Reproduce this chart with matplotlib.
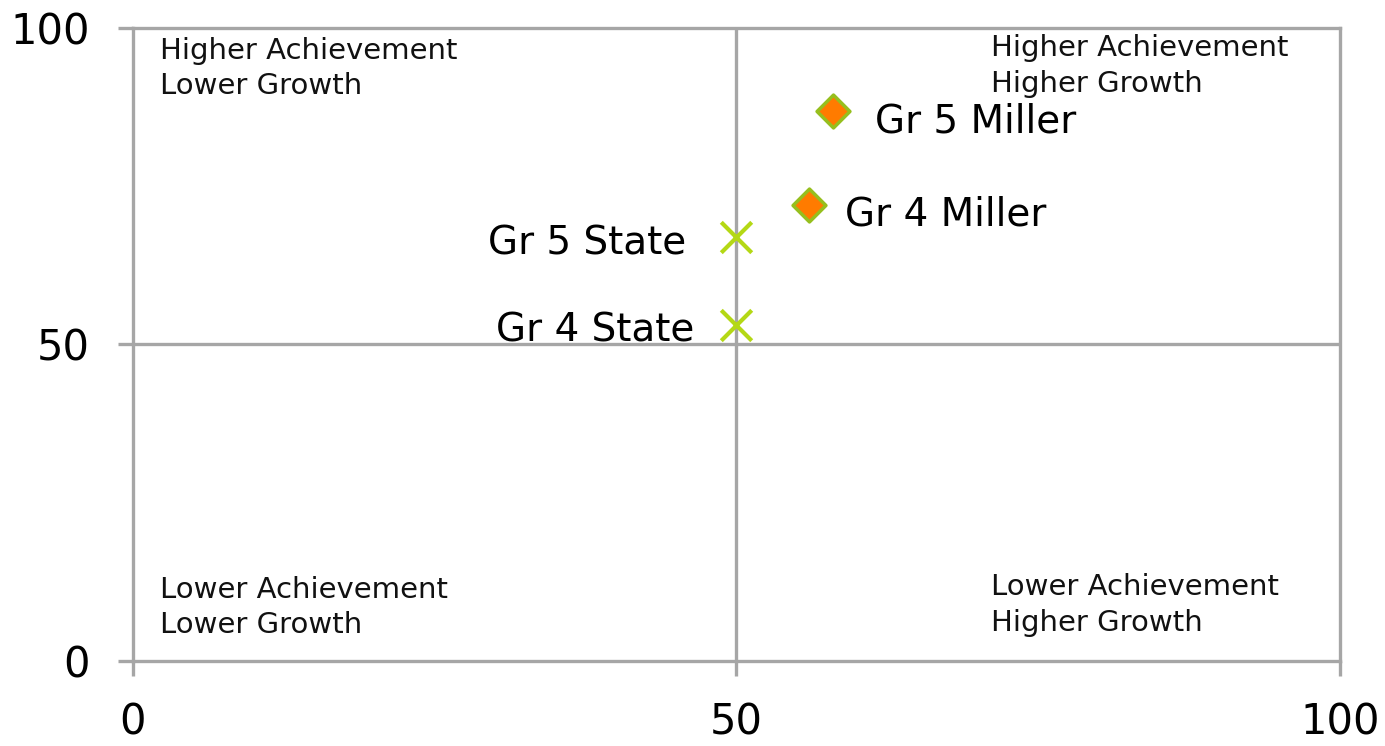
import matplotlib.pyplot as plt

# Growth (x) vs achievement (y) percentiles
miller_labels = ["Gr 5 Miller", "Gr 4 Miller"]
miller_x = [58.0, 56.0]
miller_y = [86.9, 72.0]

state_labels = ["Gr 5 State", "Gr 4 State"]
state_x = [50.0, 50.0]
state_y = [67.0, 53.1]

ticks = [0, 50, 100]

# quadrant captions: x, baseline y of each line
quad_text = [
    ("Higher Achievement", "Lower Growth"),
    ("Higher Achievement", "Higher Growth"),
    ("Lower Achievement", "Lower Growth"),
    ("Lower Achievement", "Higher Growth"),
]
quad_x = [2.2, 71.1, 2.2, 71.1]
quad_y1 = [95.1, 95.6, 9.9, 10.4]
quad_y2 = [89.6, 89.9, 4.4, 4.7]

grey = "#a6a6a6"

fig = plt.figure(figsize=(13.85, 7.46), dpi=100)
ax = fig.add_axes([0.096, 0.114, 0.8715, 0.8485])
ax.set_xlim(0, 100)
ax.set_ylim(0, 100)

for s in ax.spines.values():
    s.set_color(grey)
    s.set_linewidth(2.4)

ax.axhline(50, color=grey, lw=2.4, zorder=1)
ax.axvline(50, color=grey, lw=2.4, zorder=1)

ax.set_xticks(ticks)
ax.set_yticks(ticks)
ax.tick_params(axis="both", length=11, width=2.4, color=grey, labelsize=30)
ax.tick_params(axis="x", pad=18)
ax.tick_params(axis="y", pad=20)

for (l1, l2), qx, y1, y2 in zip(quad_text, quad_x, quad_y1, quad_y2):
    ax.text(qx, y1, l1, fontsize=21, va="baseline", ha="left", color="#111111")
    ax.text(qx, y2, l2, fontsize=21, va="baseline", ha="left", color="#111111")

# school points
ax.scatter(miller_x, miller_y, marker="D", s=280, color="#ff7b00",
           edgecolor="#96bf1e", linewidth=2.5, zorder=3)
# state points
ax.scatter(state_x, state_y, marker="x", s=480, color="#b4d815",
           linewidth=3, zorder=3)

miller_off = [(42, -22), (36, -20)]
for lab, x, y, off in zip(miller_labels, miller_x, miller_y, miller_off):
    ax.annotate(lab, (x, y), xytext=off, textcoords="offset pixels",
                fontsize=28, va="baseline", ha="left")

state_off = [(-50, -18), (-42, -17)]
for lab, x, y, off in zip(state_labels, state_x, state_y, state_off):
    ax.annotate(lab, (x, y), xytext=off, textcoords="offset pixels",
                fontsize=28, va="baseline", ha="right")

fig.savefig("out.png", dpi=100)
